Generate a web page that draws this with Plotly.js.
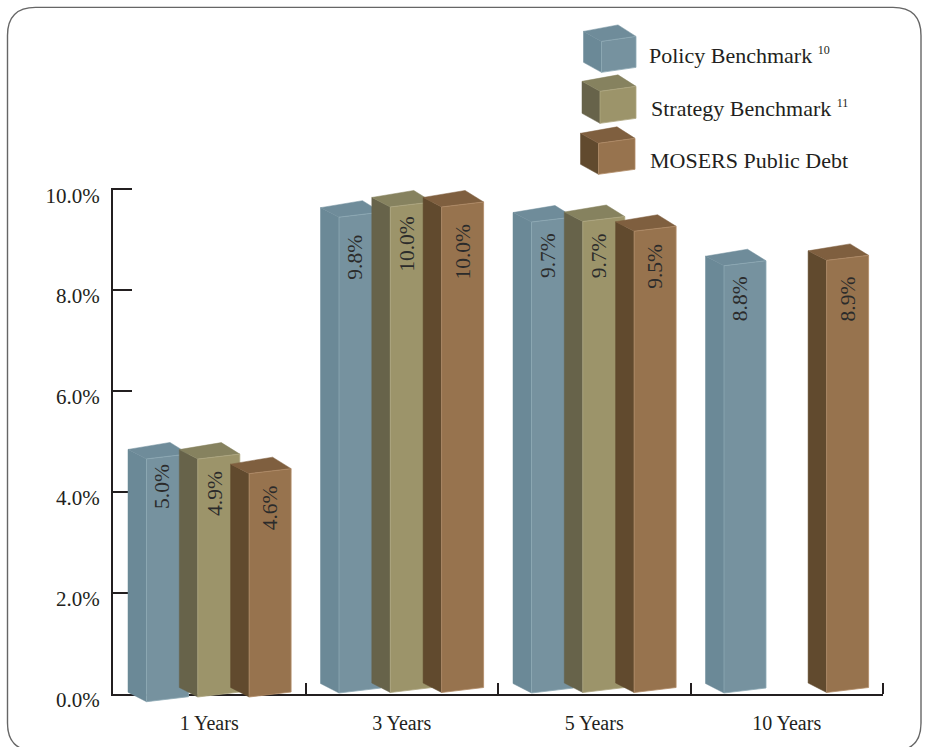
<!DOCTYPE html>
<html>
<head>
<meta charset="utf-8">
<title>Investment returns</title>
<script src="https://cdn.plot.ly/plotly-3.0.1.min.js"></script>
<style>html,body{margin:0;padding:0;background:#fff}#chart{width:925px;height:747px}</style>
</head>
<body>
<div id="chart"></div>
<script>
// Annualised returns by holding period
const periods = ['1 Years', '3 Years', '5 Years', '10 Years'];
const seriesNames = ['Policy Benchmark', 'Strategy Benchmark', 'MOSERS Public Debt'];
const policyBenchmark = [5.0, 9.8, 9.7, 8.8];
const strategyBenchmark = [4.9, 10.0, 9.7, null];
const publicDebt = [4.6, 10.0, 9.5, 8.9];
const yTicks = [0, 2, 4, 6, 8, 10];
const yTickText = ['0.0%', '2.0%', '4.0%', '6.0%', '8.0%', '10.0%'];
const legendLabels = [
  'Policy Benchmark <sup><span style="font-size:12px">10</span></sup>',
  'Strategy Benchmark <sup><span style="font-size:12px">11</span></sup>',
  'MOSERS Public Debt'
];

// Page and plot-area geometry, in pixels. The value axis runs from 0 at zeroY
// to 10 at tenY; the box-drawing axis y2 shares its scale and reaches a little lower.
const W = 925, H = 747;
const M = {l: 113, r: 42, t: 187.7, b: 35};
const zeroY = 693.5, tenY = 189;
const plotW = W - M.l - M.r, plotH = H - M.t - M.b;
const INK = '#231f20';
const SERIF = '"Liberation Serif", "DejaVu Serif", serif';

// Pixel-to-data factors (x spans one unit per period)
const xUnit = periods.length / plotW;
const yUnit = 10 / (zeroY - tenY);
const yTop = (zeroY - M.t) * yUnit;
const yBottom = -(H - M.b - zeroY) * yUnit;

// Oblique box projection
const box = {start: 15, step: 51.3, sideW: 18.5, sideRise: 9.5, frontW: 42, frontRise: 5, backExtra: 2, valueScale: 0.963};
const palette = [
  {front: '#76929f', side: '#6b8997', top: '#6f8c9a', edge: '#8ea9b5'},
  {front: '#9c946a', side: '#67634a', top: '#86825f', edge: '#aea781'},
  {front: '#97734e', side: '#614a2e', top: '#7f5f3f', edge: '#b18c67'}
];
// Footing of each box relative to the axis, px downward
const footDrop = [[8.2, 3.5, 3.5], [-0.5, -1, -1], [-0.5, -1, -1], [-0.5, -1, -1]];
const labelOffset = [{x: 16, y: 8}, {x: 16.5, y: 9}, {x: 21, y: 12}];
// Fine vertical placement of the value labels, px downward
const labelNudge = [[-5, 1, -2], [8, -2, 3], [1, 1, -1], [1, 1, 2]];

function polygon(name, pts, fill, line, lw) {
  return {
    type: 'scatter', mode: 'lines', name: name, hoverinfo: 'skip', yaxis: 'y2',
    x: pts.map(p => p[0]), y: pts.map(p => p[1]),
    fill: 'toself', fillcolor: fill,
    line: {color: line, width: lw}
  };
}

// An unmarked trace keeps the value axis and its subplot on the page
const traces = [{type: 'scatter', mode: 'none', x: [0], y: [0], hoverinfo: 'skip', name: 'axis'}];
const annotations = [];
[policyBenchmark, strategyBenchmark, publicDebt].forEach((values, s) => {
  const c = palette[s];
  values.forEach((v, g) => {
    if (v === null) return;
    // Front corner of the footing in data units; every other corner follows from it
    const fx = g + (box.start + box.step * s + box.sideW) * xUnit;
    const fy = -footDrop[g][s] * yUnit;
    const top = fy + v * box.valueScale;
    const sw = box.sideW * xUnit, sr = box.sideRise * yUnit;
    const fw = box.frontW * xUnit, fr = box.frontRise * yUnit;
    const be = box.backExtra * yUnit;
    const label = seriesNames[s] + ' ' + periods[g];
    traces.push(polygon(label + ' side',
      [[fx - sw, fy + sr], [fx, fy], [fx, top], [fx - sw, top + sr], [fx - sw, fy + sr]], c.side, c.side, 0.5));
    traces.push(polygon(label + ' top',
      [[fx - sw, top + sr], [fx, top], [fx + fw, top + fr], [fx + fw - sw, top + fr + sr + be], [fx - sw, top + sr]], c.top, c.top, 0.5));
    traces.push(polygon(label + ' front',
      [[fx, fy], [fx + fw, fy + fr], [fx + fw, top + fr], [fx, top], [fx, fy]], c.front, c.edge, 0.8));
    annotations.push({
      xref: 'x', yref: 'y2', x: fx + labelOffset[s].x * xUnit,
      y: top - (labelOffset[s].y + labelNudge[g][s]) * yUnit,
      text: v.toFixed(1) + '%', textangle: -90, showarrow: false,
      xanchor: 'center', yanchor: 'top',
      font: {family: SERIF, size: 21.5, color: '#2b2b2b'}
    });
  });
});

// Pixel-based page furniture lives in paper coordinates
const px = x => (x - M.l) / plotW;
const py = y => 1 - (y - M.t) / plotH;
const pathOf = pts => 'M' + pts.map(p => px(p[0]) + ',' + py(p[1])).join('L') + 'Z';

const shapes = [];
// Rounded frame around the figure; its lower edge runs off the page
(function () {
  const a = 7.5, b = 921, t = 7, u = 751, r = 28;
  const P = (x, y) => px(x) + ',' + py(y);
  const frame = 'M' + P(a + r, t) + 'L' + P(b - r, t) +
    'Q' + P(b, t) + ' ' + P(b, t + r) + 'L' + P(b, u - r) +
    'Q' + P(b, u) + ' ' + P(b - r, u) + 'L' + P(a + r, u) +
    'Q' + P(a, u) + ' ' + P(a, u - r) + 'L' + P(a, t + r) +
    'Q' + P(a, t) + ' ' + P(a + r, t) + 'Z';
  shapes.push({type: 'path', xref: 'paper', yref: 'paper', path: frame, layer: 'below',
    line: {color: '#666666', width: 1.4}});
})();

// Legend keys: small boxes, with the front corner at (x, y) and y at the footing
const legendKeys = [
  {x: 601.5, y: 72, h: 31, w: 34.5},
  {x: 600, y: 123, h: 32, w: 36},
  {x: 598.5, y: 174, h: 31, w: 36.5}
];
legendKeys.forEach((k, s) => {
  const c = palette[s], sw = 18, sr = 10, fr = 5, be = 1.5;
  shapes.push({type: 'path', xref: 'paper', yref: 'paper', layer: 'below', fillcolor: c.side,
    line: {color: c.side, width: 0.5},
    path: pathOf([[k.x - sw, k.y - sr], [k.x, k.y], [k.x, k.y - k.h], [k.x - sw, k.y - k.h - sr]])});
  shapes.push({type: 'path', xref: 'paper', yref: 'paper', layer: 'below', fillcolor: c.top,
    line: {color: c.top, width: 0.5},
    path: pathOf([[k.x - sw, k.y - k.h - sr], [k.x, k.y - k.h], [k.x + k.w, k.y - k.h - fr], [k.x + k.w - sw, k.y - k.h - fr - sr - be]])});
  shapes.push({type: 'path', xref: 'paper', yref: 'paper', layer: 'below', fillcolor: c.front,
    line: {color: c.edge, width: 0.8},
    path: pathOf([[k.x, k.y], [k.x + k.w, k.y - fr], [k.x + k.w, k.y - k.h - fr], [k.x, k.y - k.h]])});
});

const legendText = [{x: 647, y: 55}, {x: 649, y: 108}, {x: 648, y: 160}];
legendLabels.forEach((t, i) => {
  annotations.push({
    xref: 'paper', yref: 'paper', x: px(legendText[i].x), y: py(legendText[i].y),
    xanchor: 'left', yanchor: 'middle', showarrow: false, text: t,
    font: {family: SERIF, size: 22, color: INK}
  });
});

const layout = {
  width: W, height: H, autosize: false, showlegend: false,
  margin: {l: M.l, r: M.r, t: M.t, b: M.b, pad: 0},
  paper_bgcolor: '#ffffff', plot_bgcolor: 'rgba(0,0,0,0)',
  xaxis: {
    anchor: 'y', range: [0, periods.length], tickmode: 'array',
    tickvals: periods.map((_, i) => i + 0.5), ticktext: periods, ticks: '',
    showgrid: false, zeroline: false, showline: true, linecolor: INK, linewidth: 2,
    layer: 'below traces', fixedrange: true,
    ticklabelstandoff: 10,
    tickfont: {family: SERIF, size: 20, color: INK},
    minor: {tickmode: 'array', tickvals: periods.map((_, i) => i + 1), ticks: 'inside',
      ticklen: 11, tickwidth: 2, tickcolor: INK, showgrid: false}
  },
  yaxis: {
    anchor: 'x', domain: [(H - M.b - zeroY) / plotH, 1], range: [0, yTop],
    tickmode: 'array', tickvals: yTicks, ticktext: yTickText,
    ticks: 'inside', ticklen: 19, tickwidth: 2, tickcolor: INK,
    showgrid: false, zeroline: false, showline: true, linecolor: INK, linewidth: 2,
    layer: 'below traces', fixedrange: true,
    ticklabelstandoff: 7, ticklabelshift: 6,
    tickfont: {family: SERIF, size: 21, color: INK}
  },
  yaxis2: {
    anchor: 'x', domain: [0, 1], range: [yBottom, yTop], visible: false, fixedrange: true
  },
  shapes: shapes,
  annotations: annotations
};

Plotly.newPlot('chart', traces, layout, {displayModeBar: false, staticPlot: true});
</script>
</body>
</html>
